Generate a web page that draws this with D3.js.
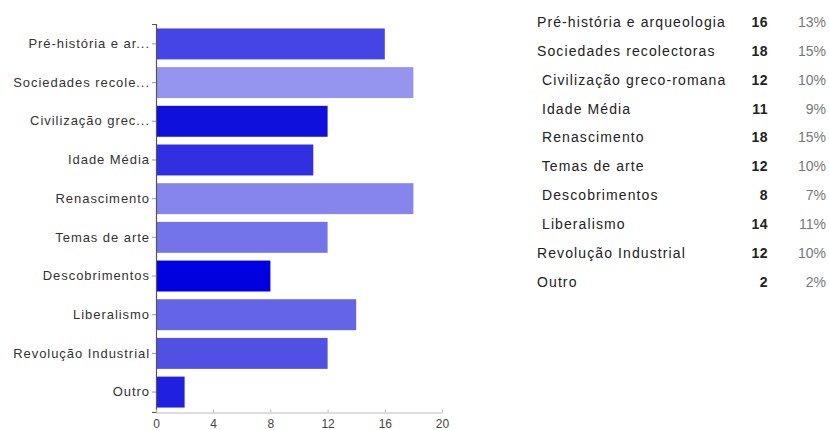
<!DOCTYPE html>
<html>
<head>
<meta charset="utf-8">
<script src="https://cdn.jsdelivr.net/npm/d3@7"></script>
<style>
  html, body { margin: 0; padding: 0; background: #fff; }
  svg { display: block; }
  text { font-family: Arial, "Liberation Sans", sans-serif; white-space: pre; }
</style>
</head>
<body>
<script>
// ---- data ----
const axisLabels = ["Pré-história e ar...", "Sociedades recole...", "Civilização grec...", "Idade Média",
  "Renascimento", "Temas de arte", "Descobrimentos", "Liberalismo", "Revolução Industrial", "Outro"];
const fullLabels = ["Pré-história e arqueologia", "Sociedades recolectoras", " Civilização greco-romana",
  " Idade Média", " Renascimento", " Temas de arte", " Descobrimentos", " Liberalismo",
  "Revolução Industrial", "Outro"];
const values = [16, 18, 12, 11, 18, 12, 8, 14, 12, 2];
const barColors = ["#4545e5", "#9595ef", "#1010dd", "#3030e0", "#8585ed", "#7474ea",
  "#0000e0", "#6464e8", "#5050e4", "#2020e0"];
const xTicks = [0, 4, 8, 12, 16, 20];

const W = 829, H = 430;
const svg = d3.select("body").append("svg").attr("width", W).attr("height", H);

const x = d3.scaleLinear().domain([0, 20]).range([156, 442]);
const y = d3.scaleBand().domain(d3.range(values.length)).range([24, 412])
  .paddingInner(0.2).paddingOuter(0.115);

// bars
svg.append("g").selectAll("rect").data(values).join("rect")
  .attr("x", x(0))
  .attr("y", (d, i) => y(i))
  .attr("width", d => x(d) - x(0))
  .attr("height", y.bandwidth())
  .attr("fill", (d, i) => barColors[i]);

// y axis
const yAxis = d3.axisLeft(y).tickSize(4).tickPadding(2).tickFormat(i => axisLabels[i]);
const gy = svg.append("g").attr("transform", `translate(${x(0)},0)`).call(yAxis);
gy.select(".domain").attr("stroke", "#555").attr("stroke-width", 1.2);
gy.selectAll(".tick line").attr("stroke", "#999");
gy.selectAll(".tick text").attr("font-size", 13).attr("fill", "#333")
  .attr("letter-spacing", 0.95)
  .attr("font-family", "Arial, 'Liberation Sans', sans-serif");

// x axis
const xAxis = d3.axisBottom(x).tickValues(xTicks).tickSize(-3).tickSizeOuter(0).tickPadding(7);
const gx = svg.append("g").attr("transform", `translate(0,412.5)`).call(xAxis);
gx.select(".domain").attr("stroke", "#bbb");
gx.selectAll(".tick line").attr("stroke", "#bbb");
gx.selectAll(".tick text").attr("font-size", 12).attr("fill", "#444")
  .attr("font-family", "Arial, 'Liberation Sans', sans-serif");

// legend table
const total = d3.sum(values);
const rowY = d3.scalePoint().domain(d3.range(values.length)).range([22, 282]);
const tbl = svg.append("g");
const rows = tbl.selectAll("g").data(values).join("g")
  .attr("transform", (d, i) => `translate(0,${rowY(i)})`);
rows.append("text").attr("x", 537).attr("dy", "0.35em")
  .attr("font-size", 14).attr("fill", "#222").attr("letter-spacing", 1.1)
  .text((d, i) => fullLabels[i]);
rows.append("text").attr("x", 768).attr("dy", "0.35em").attr("text-anchor", "end")
  .attr("font-size", 14).attr("font-weight", "bold").attr("fill", "#222")
  .attr("letter-spacing", 0.5)
  .text(d => d);
rows.append("text").attr("x", 826).attr("dy", "0.35em").attr("text-anchor", "end")
  .attr("font-size", 14).attr("fill", "#777")
  .text(d => Math.round(d / total * 100) + "%");
</script>
</body>
</html>
